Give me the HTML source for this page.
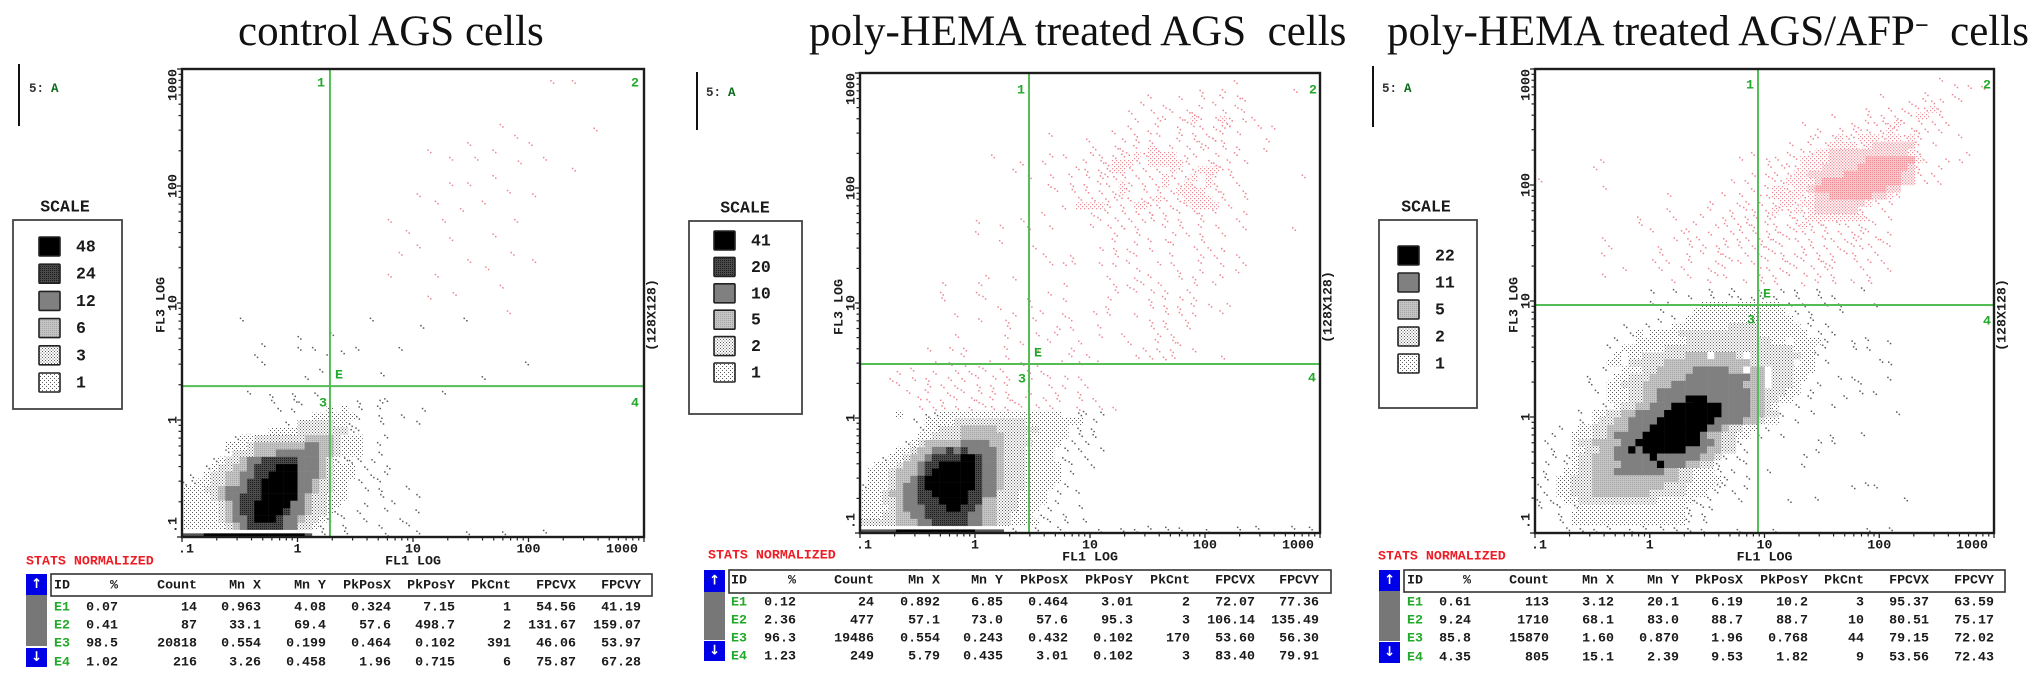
<!DOCTYPE html>
<html lang="en">
<head>
<meta charset="utf-8">
<title>AGS cells flow cytometry dot plots</title>
<style>
html,body{margin:0;padding:0;background:#fff;width:2031px;height:679px;overflow:hidden}
svg{display:block}
.t{font-family:"Liberation Serif",serif;font-size:43px;fill:#111;white-space:pre}
.m{font-family:"Liberation Mono",monospace;font-weight:bold;font-size:13.3px;fill:#1a1a1a;dominant-baseline:central;white-space:pre}
</style>
</head>
<body>
<svg id="chart" xmlns="http://www.w3.org/2000/svg" width="2031" height="679" viewBox="0 0 2031 679">
<defs>
<pattern id="lvl1" patternUnits="userSpaceOnUse" width="4" height="4"><rect width="4" height="4" fill="#fff"/><rect x="0" y="0" width="1" height="1" fill="#5c5c5c"/><rect x="2" y="2" width="1" height="1" fill="#5c5c5c"/></pattern>
<pattern id="lvl2" patternUnits="userSpaceOnUse" width="3" height="3"><rect width="3" height="3" fill="#fff"/><rect x="0" y="0" width="1" height="1" fill="#5c5c5c"/><rect x="1.5" y="1.5" width="1" height="1" fill="#5c5c5c"/></pattern>
<pattern id="lvl3" patternUnits="userSpaceOnUse" width="2" height="2"><rect width="2" height="2" fill="#c4c4c4"/><rect width="1" height="1" fill="#a4a4a4"/></pattern>
<pattern id="lvl5" patternUnits="userSpaceOnUse" width="2" height="2"><rect width="2" height="2" fill="#4a4a4a"/><rect width="1" height="1" fill="#1c1c1c"/></pattern>
<pattern id="lvl1p" patternUnits="userSpaceOnUse" width="4" height="4"><rect width="4" height="4" fill="#fff"/><rect x="0" y="0" width="1.2" height="1.2" fill="#ec8a93"/><rect x="2" y="2" width="1.2" height="1.2" fill="#ec8a93"/></pattern>
<pattern id="lvl2p" patternUnits="userSpaceOnUse" width="3" height="3"><rect width="3" height="3" fill="#fff"/><rect x="0" y="0" width="1.3" height="1.3" fill="#ee8e97"/><rect x="1.5" y="1.5" width="1.3" height="1.3" fill="#ee8e97"/></pattern>
<pattern id="lvl3p" patternUnits="userSpaceOnUse" width="2" height="2"><rect width="2" height="2" fill="#f9c2c7"/><rect width="1" height="1" fill="#ef8c95"/></pattern>
</defs>
<text class="t" x="238" y="45">control AGS cells</text>
<text class="t" x="809" y="45">poly-HEMA treated AGS  cells</text>
<text class="t" x="1387" y="45">poly-HEMA treated AGS/AFP<tspan font-weight="bold" font-size="24" dy="-12">−</tspan><tspan dy="12">  cells</tspan></text>
<g id="plots"></g>
</svg>
<script>
// Log-scale ticks shared by both axes (fluorescence units)
const axisDecades = [0.1, 1, 10, 100, 1000];
const axisTickLabels = [".1", "1", "10", "100", "1000"];
const minorMultipliers = [2, 3, 4, 5, 6, 7, 8, 9];

// Quadrant gates per panel (FL1 value, FL3 value)
const gateX = [1.91, 2.95, 8.78];
const gateY = [1.95, 2.95, 9.24];

// Above this FL3 channel, events are drawn in the gate's pink colour
const pinkFromChannel = [62, 34, 68];

// SCALE legend counts and their density level
const scaleValues1 = [48, 24, 12, 6, 3, 1];
const scaleValues2 = [41, 20, 10, 5, 2, 1];
const scaleValues3 = [22, 11, 5, 2, 1];
const scaleLevels1 = [6, 5, 4, 3, 2, 1];
const scaleLevels2 = [6, 5, 4, 3, 2, 1];
const scaleLevels3 = [6, 4, 3, 2, 1];

// Stats tables
const statsHeaders = ["ID", "%", "Count", "Mn X", "Mn Y", "PkPosX", "PkPosY", "PkCnt", "FPCVX", "FPCVY"];
const stats1 = [
 ["E1","0.07","14","0.963","4.08","0.324","7.15","1","54.56","41.19"],
 ["E2","0.41","87","33.1","69.4","57.6","498.7","2","131.67","159.07"],
 ["E3","98.5","20818","0.554","0.199","0.464","0.102","391","46.06","53.97"],
 ["E4","1.02","216","3.26","0.458","1.96","0.715","6","75.87","67.28"]];
const stats2 = [
 ["E1","0.12","24","0.892","6.85","0.464","3.01","2","72.07","77.36"],
 ["E2","2.36","477","57.1","73.0","57.6","95.3","3","106.14","135.49"],
 ["E3","96.3","19486","0.554","0.243","0.432","0.102","170","53.60","56.30"],
 ["E4","1.23","249","5.79","0.435","3.01","0.102","3","83.40","79.91"]];
const stats3 = [
 ["E1","0.61","113","3.12","20.1","6.19","10.2","3","95.37","63.59"],
 ["E2","9.24","1710","68.1","83.0","88.7","88.7","10","80.51","75.17"],
 ["E3","85.8","15870","1.60","0.870","1.96","0.768","44","79.15","72.02"],
 ["E4","4.35","805","15.1","2.39","9.53","1.82","9","53.56","72.43"]];

// Density heatmaps on a 64x64 log-channel grid. Index = row from the bottom.
// Each row holds "startColumn:levels" runs; levels: a=isolated events, 1..6=legend levels,
// z=black edge pile-up, y=gray edge pile-up.
const densityRows1 = [
 "0:yyy 3:zzzzzzzzzzzzzz 17:y 19:a..a.....a...a......a 44:a 50:a",
 "0:111111234555554422 18:1a..a....a...a",
 "0:1111123445666544322 19:1a.a..a....a",
 "0:111112345566665443221a 24:a...a...a",
 "0:1111123455666664432211 25:a...a",
 "0:11112344555666664322111 27:a 32:a",
 "0:11122344455666664432211 25:a.a 31:a",
 "0:aa112233455666664432211 24:a..a",
 "1:a 3:122334455666644432111 26:a.a",
 "3:a12233455566644432111 25:a..a",
 "4:a1223445555544432aaaa 26:a",
 "6:a222333444444332111 27:a",
 "6:1112333333344332111 27:a",
 "7:a11222222233332111 28:a",
 "12:11112222222aa",
 "14:a. 16:2222211a...a....a",
 "18:111111a..a..a",
 "13:a.a....1.1.a..a.....a",
 "12:a..aa.......a..aa",
 "9:a..a..a..a"
];
const densityRows2 = [
 "0:yyyyy 5:zzzzzzzzzzz 16:yyyy 21:a..a..a.....a..a.a.a.a.a...a...a..a....a.a",
 "0:22222 5:333 8:44 10:55555 15:44 17:33 19:22 21:1111 26:a.a..a",
 "0:1112 4:2 5:33 7:44 9:555555 15:44 17:33 19:22 21:111 25:a..a",
 "0:1111 4:2 5:3 6:444 9:555 12:66 14:55 16:4 17:33 19:222 22:111 26:a...a",
 "0:111 3:22 5:3 6:44 8:555 11:6666 15:55 17:33 19:222 22:1111 27:a",
 "0:111 3:2 4:33 6:44 8:55 10:66666 15:55 17:44 19:222 22:1111 27:a..a",
 "0:a1 2:11 4:2 5:3 6:44 8:5 9:6666666 16:5 17:44 19:3 20:222 23:1111 28:a",
 "1:111 4:2 5:33 7:4 8:5 9:6666666 16:5 17:44 19:3 20:222 23:11111",
 "1:111 4:2 5:33 7:3 8:4 9:5 10:666666 16:5 17:44 19:3 20:222 23:11111 29:a",
 "2:111 5:2 6:33 8:4 9:55 11:66666 16:5 17:44 19:3 20:222 23:11111 29:a..a",
 "3:a11 6:2 7:33 9:4 10:5555 14:66 16:5 17:44 19:3 20:222 23:1111 28:a..a",
 "5:11 7:2 8:33 10:4 11:45454 16:444 19:3 20:222 23:1111 28:a.a..a",
 "6:a1 8:2 9:33 11:333 14:4444 18:33 20:2222 24:1111 29:a.a",
 "8:11 10:2 11:222 14:33333 19:3 20:222 23:111 26:111 30:a.a",
 "8:a11 11:222 14:33333 19:222 22:222 25:1111 30:a.a",
 "7:a.1111 13:222222 19:2222 23:111 26:11111 32:a",
 "5:1...aa 11:11111111 19:11111 24:1111 30:aa 33:a",
 "8:a.aa.a.a.aa.a 22:a.a.a.. 30:a..a.a",
 "8:aa.a.a.aa.a.aa.a 25:a.a..a.a",
 "6:a..a..a.a.a.a.a..a 27:a..a",
 "5:a...a.a.a..a.a.a 26:a.a..a",
 "4:a..a.a..a.a.a.a.a 23:a..a.a 30:a",
 "5:a.a..a..a.a.a.a 23:a.a",
 "10:a.a.a.a.a 22:a.a 28:a.a 33:a",
 "14:a 20:a 29:a.a 38:a.a.a 43:a 50:a",
 "9:a..a.a 20:a 24:a 29:a 39:a.a.a 46:a",
 "22:a 26:a 30:a 37:a 41:a.a 44:a",
 "13:a 20:a 24:a..a 33:a..a 41:a.a",
 "20:a 27:a.a 33:a 40:a.a 45:a",
 "16:a 20:a 24:a 29:a 40:a.a 45:a",
 "13:a 21:a 25:a 28:a 32:a.a 38:a 42:a.a.a 50:a",
 "19:a 23:a 34:a 40:a.a.a.a 48:a 51:a",
 "11:a 17:a 23:a 28:a 34:a 40:a.a.a 46:a",
 "11:a 16:a 26:a 35:a 38:a.a.a 45:a",
 "11:a 16:a 28:a 35:a.a 39:a.a 46:a 49:a",
 "17:a 21:a 34:a 38:a.a 44:a.a 50:a",
 "38:a 44:a 47:a 52:a",
 "26:a.a 29:a 33:a.a 37:a 41:a.a 47:a 50:a 53:a",
 "25:a 29:a 35:a 38:a 43:a 47:a.a 52:a",
 "24:a 33:a.a 37:a 40:a 46:a.a.a 50:a",
 "19:a 35:a 38:a.a.a 43:a 47:a",
 "16:a 35:a 38:a 43:a.a.a 50:a",
 "19:a 23:a 26:a 32:a.a.a 36:a.a 42:a.a 47:a.a 53:a 60:a",
 "16:a 22:a 33:a.a.a.a 40:a.a.a 47:a 52:a",
 "25:a 32:a.a.a.a.a 40:a.a.a.a 47:a.a 53:a",
 "28:a 30:1111 34:a.a 38:11 40:aa.a.a 46:1111 51:a",
 "30:a.a.a 35:aaa.a 40:a1a.a 45:1111 50:a 53:a",
 "27:a.a 31:a.a 35:a1a 39:a.a.a 44:1111 49:aa 53:a",
 "26:a 29:a 31:a.aa 36:1a.a 41:a1.a1a 48:1a 52:a",
 "23:a 26:a 29:a.a.aa 35:aa.a 40:a.1a.a1 48:1a 51:a 61:a",
 "21:a 30:aa.aa 35:11a.a 41:a.1a.a1 48:11aa",
 "22:a 25:a 31:a.aa 35:111a 40:1111 44:1a 48:aa 51:a 53:a",
 "18:a 26:a 28:a 32:aa.aaa 38:1a1111 45:aa 49:a 52:a",
 "32:a 35:aa.a 40:1a.a.a 47:aa 50:a.a 56:a",
 "31:a 36:a.a 40:a 44:a.aa.a 49:aa 56:a",
 "26:a 35:a 38:a.aa 44:a.a.a.a 52:a",
 "37:a 41:a 44:a.aa.a.a 50:aa 55:a 57:a",
 "38:a 41:aa.a 45:a1a.aa 50:1a.a 54:a",
 "37:a 40:a 43:a.a 46:a 50:a 53:a",
 "39:a 42:a 47:a.a 52:a",
 "40:a 44:a 47:a 50:a.a 53:a",
 "47:a 50:a 60:a",
 "52:a"
];
const densityRows3 = [
 "4:a.a.a.a..a.a.a.a.a.a 28:a 33:a 46:a 49:a",
 "3:a.a 5:1111111111111111 21:a.a",
 "3:a 5:111111111111111 20:1 21:a.a",
 "0:a 3:a 5:a1111 9:1111111 16:11111 21:a.a 24:a",
 "0:a 2:a.1 5:1222 9:2222 13:2222 17:1111 21:1a 24:a 28:a 35:a 39:a 51:a",
 "1:a 3:11 5:222 8:3333 12:3333 16:22 18:222 21:111 25:a.a",
 "0:a 3:111 5:22 7:2 8:333 11:333 14:3333 18:222 21:1111 25:aa 29:a 44:a.a 47:a",
 "1:a 3:11 5:222 8:33 10:3333 14:3333 18:33 20:22 22:1111 26:a 29:a",
 "1:a 4:111 6:22 8:33 10:3 11:4444 15:444 18:33 20:22 22:111 25:a.a 32:a",
 "1:a 4:a1 6:22 8:33 10:33 12:444 15:4464 19:44 21:33 23:22 25:a 29:a 37:a",
 "2:a 4:a1 6:22 8:333 11:44 13:44 15:4 16:6 17:444 20:444 23:33 25:2 26:a 28:a 37:a",
 "2:a 5:11 7:22 9:33 11:44 13:6 14:4 15:6666 19:66 21:444 24:33 26:22 29:a 39:a",
 "1:a 5:1 6:22 8:33 10:33 12:44 14:66 16:66666 21:66 23:44 25:3 26:22 28:a 39:a 41:a",
 "2:a 5:111 8:22 10:33 11:4444 15:6666 19:6666 23:4 24:33 26:22 28:11 31:a 34:a 41:a 45:a",
 "3:a 6:11 8:22 10:333 13:444 16:66 18:666666 24:44 26:3 27:22 29:11 32:a",
 "6:a.1 9:22 11:33 13:4444 17:6666 21:6666 25:44 27:44 29:33 31:2 32:11 36:a",
 "6:a 8:11 10:22 12:33 14:444 17:4 18:66666 23:666 26:44 28:44 30:33 32:22 34:a 38:a 50:a",
 "9:a 11:1 12:22 14:33 16:444 19:66 21:66666 26:44 28:44 30:33 32:2 33:1 36:a 41:a",
 "10:1 11:11 13:22 15:333 17:444 20:44 21:666 24:444 27:444 30:33 32:22 34:11 38:a 43:a",
 "8:a 10:111 13:222 15:33 17:44444 22:44444 27:444 30:33 32:222 35:11 38:a 45:a.a",
 "7:a 10:11 12:222 15:33 17:33 19:444 22:4444 26:444 29:3 30:33 33:222 36:1 39:a 45:a",
 "7:a 11:11 13:222 16:333 19:33 21:4444 25:444 28:44 30:33 33:222 36:11 42:a 44:a 49:a",
 "9:a 12:111 15:222 17:33 19:333 22:44 24:444 27:33 30:33 33:222 36:111",
 "10:11 13:222 16:22 18:33 20:3333 24:3333 28:33 30:2 31:222 34:22 37:11 40:a 48:a 49:a",
 "11:1 13:11 15:222 18:222 21:333 25:333 28:2 30:222 33:2222 37:11 39:a",
 "10:a 12:11 14:1111 18:222 21:222 24:222 27:222 30:222 33:222 36:111 40:a 44:a 46:a",
 "11:a 14:111 17:1111 21:222 24:222 27:222 30:222 33:11 36:1111 40:a 44:a.a 49:a",
 "13:a 14:1 16:1111 20:222 23:222 26:222 29:22 31:1111 35:111 39:a.a",
 "12:a 15:a 19:1111 23:1111 27:2222 31:111 34:111 38:a 40:a",
 "17:a 19:a 21:1111 25:1111 29:1111 33:111 38:a",
 "17:a 22:111 25:1111 29:1111 33:11 36:a.a 42:a",
 "16:a 18:a 23:111 26:1 28:111 31:111 35:a.a 40:a.a 47:a",
 "21:a 24:a 27:aa 30:aa 33:a 36:a 39:a 41:a",
 "16:a 19:a 24:a 27:a 31:a 34:a 36:a 39:a 45:a",
 "19:a 24:a 29:a 31:a.a 37:a.a.a 44:a.a",
 "9:a 21:a 25:aa 31:a.a.a 35:a.a 39:a.a 46:a",
 "12:a 17:a 20:a 24:a.a 31:aa.a 36:a.a.a 41:a 45:a 49:a",
 "16:a.a 21:a 25:a.aa 30:a.a 34:aa.a.a 39:aaa 44:a.a 48:a",
 "9:a 17:a 21:a.a 25:aa 29:a.a.a 34:a.aa 39:a.a 43:aa 47:a",
 "10:a 17:a 21:a.a 25:aa 28:a.aa 32:a.a 37:aa.a 42:a.aa 46:a 49:a",
 "9:a 19:a 21:aa 26:a.a 29:a.a 32:aa 35:aa.a 40:aa.a 44:aa.a 48:a",
 "16:a 20:aa 24:a 27:aa 30:a.aa 34:a.aa 38:a.a 42:a.aa 46:a 49:a",
 "14:a 22:a 25:aa.a 29:aa 32:aa.a 36:a1a 39:aa.a 43:a.a 47:a",
 "14:a 19:a 23:a 26:aa.a 30:a.a 33:a.aa 37:a11 40:111 43:111 46:a 49:a",
 "18:a 24:a 27:a.a 30:a.a 33:1aa 36:1a1 39:222 42:222 45:a 48:a",
 "24:a 28:aa 31:a 33:a11 36:a11 39:2222 43:222 46:1a 49:a",
 "18:a 26:a 28:a 31:aa 33:111 36:1a1 39:2233 43:3333 47:22 49:1a",
 "9:a 30:a 32:a11 35:a11 38:2 39:3333 43:3333 47:33 49:22",
 "0:a 27:a 29:a 33:aa 35:1 36:111 39:2333 43:3333 47:3333 51:22 54:a 56:a",
 "30:a 32:aa.a 36:11 38:2222 42:2333 46:33333 51:22 53:a 55:a",
 "8:a 32:a.aa 36:a1 38:11 40:2222 44:2333 48:3333 52:2 53:a 56:a",
 "9:a 28:a 32:aa 36:a1 38:111 41:222 44:22 46:3333 50:333 53:1a 57:a.a",
 "30:a 35:a.a 38:a11 41:222 44:222 47:222 50:22 52:1a 60:a",
 "35:a 38:a.a 41:111 44:1a1 47:2222 51:22 53:a.a",
 "38:aa 41:a1a 44:a11 47:1a1 50:1a1 53:a 59:a",
 "39:a 42:a.a 45:aa 48:a1 50:a.aa 54:a.a",
 "37:a 44:a.a 47:aa 49:a1a 53:a.a 57:a",
 "41:a 46:a 48:a 50:a.a 52:a11 56:a",
 "46:a 49:a 51:a.a 54:a1a",
 "52:a 54:aa 56:a 59:a",
 "48:a 54:a 58:a",
 "58:a 60:a 62:a",
 "56:a"
];

// Isolated events for panel 1, as [FL1 channel, FL3 channel] (0-127 log channels)
const eventChannels1 = [
 [68,106],[79,108],[88,113],[93,103],[102,125],[108,125],[114,112],[57,87],[65,94],[74,97],[72,87],
 [79,97],[86,99],[92,87],[97,94],[57,72],[65,80],[79,76],[86,83],[68,66],[75,67],[88,69],[97,76],
 [108,101],[95,48],[83,44],[72,40],[70,92],[77,90],[83,92],[90,95],[62,84],[60,78],[81,104],[86,106],
 [92,110],[96,108],[74,82],[70,72],[84,74],[91,78],[66,58],[60,52],[55,45],[78,60],[90,62],[52,60],
 [100,104],[74,104],[16,60],[22,53],[20,50],[22,48],[32,55],[32,52],[36,52],[41,56],[40,50],[44,51],
 [48,52],[38,46],[34,44]
];

const panelData = [
 {rows: densityRows1, events: eventChannels1, scale: scaleValues1, levels: scaleLevels1, stats: stats1},
 {rows: densityRows2, events: [], scale: scaleValues2, levels: scaleLevels2, stats: stats2},
 {rows: densityRows3, events: [], scale: scaleValues3, levels: scaleLevels3, stats: stats3}
];

// Page layout, in pixels
const panelLayout = [
 {l:182,r:644,t:69,b:537,fl3Y:305,resY:315,fl1Y:561,tickY:549,
  gate:{n1:[321,83],n2:[635,83],n3:[323,403],n4:[635,403],e:[339,375]},
  div:[19,64,126],tag:[29,51,89],
  scale:{tx:65,ty:207,box:[13,220,122,409],sx:39,sy:237,dy:27.2,vx:76},
  st:{x:26,y:561,upX:26,top:574,grayTop:595,grayBot:646,dnTop:648,dnBot:667,boxL:51,boxR:652,headY:585,rowY:[607,625,643,662],
      cols:[53,118,197,261,326,391,455,511,576,641]}},
 {l:860,r:1320,t:73,b:533,fl3Y:307,resY:307,fl1Y:557,tickY:545,
  gate:{n1:[1021,90],n2:[1313,90],n3:[1022,379],n4:[1312,378],e:[1038,353]},
  div:[697,72,130],tag:[706,728,93],
  scale:{tx:745,ty:208,box:[689,221,802,414],sx:714,sy:231,dy:26.4,vx:751},
  st:{x:708,y:555,upX:704,top:570,grayTop:592,grayBot:640,dnTop:641,dnBot:661,boxL:729,boxR:1331,headY:580,rowY:[602,620,638,656],
      cols:[730,796,874,940,1003,1068,1133,1190,1255,1319]}},
 {l:1535,r:1994,t:69,b:533,fl3Y:305,resY:315,fl1Y:557,tickY:545,
  gate:{n1:[1750,85],n2:[1987,85],n3:[1751,320],n4:[1987,321],e:[1767,294]},
  div:[1373,66,127],tag:[1382,1404,89],
  scale:{tx:1426,ty:207,box:[1379,220,1477,408],sx:1398,sy:246,dy:27,vx:1435},
  st:{x:1378,y:556,upX:1379,top:570,grayTop:591,grayBot:641,dnTop:642,dnBot:663,boxL:1404,boxR:2005,headY:580,rowY:[602,620,638,657],
      cols:[1406,1471,1549,1614,1679,1743,1808,1864,1929,1994]}}
];

const NS = "http://www.w3.org/2000/svg";
const GREEN = "#22a82a";
const GATE = "#55bd55";

function svgEl(parent, tag, attrs) {
  const e = document.createElementNS(NS, tag);
  for (const k in attrs) e.setAttribute(k, attrs[k]);
  parent.appendChild(e);
  return e;
}
function label(parent, x, y, str, opts) {
  const o = opts || {};
  const e = svgEl(parent, "text", {x: x, y: y, class: "m"});
  if (o.anchor) e.setAttribute("text-anchor", o.anchor);
  if (o.fill) e.setAttribute("style", "fill:" + o.fill + (o.size ? ";font-size:" + o.size + "px" : ""));
  else if (o.size) e.setAttribute("style", "font-size:" + o.size + "px");
  if (o.rot) e.setAttribute("transform", "rotate(-90 " + x + " " + y + ")");
  e.textContent = str;
  return e;
}
function levelFill(level, pink) {
  if (level === 6) return "#000";
  if (level === 5) return "url(#lvl5)";
  if (level === 4) return pink ? "#ee8e97" : "#808080";
  return "url(#lvl" + level + (pink ? "p" : "") + ")";
}

const root = document.getElementById("plots");

panelData.forEach(function (data, p) {
  const L = panelLayout[p];
  const W = L.r - L.l, H = L.b - L.t;
  const g = svgEl(root, "g", {});
  
  

  // Axis functions
  const xScale = function (v) { return L.l + (Math.log10(v) + 1) / 4 * W; };
  const yScale = function (v) { return L.b - (Math.log10(v) + 1) / 4 * H; };
  const xChan = function (ch) { return L.l + ch / 128 * W; };
  const yChan = function (ch) { return L.b - ch / 128 * H; };

  // Density cells
  const cells = svgEl(g, "g", {});
  
  
  const cw = W / 64, ch = H / 64;
  const dot = function (cx, cy, pink) {
    const d = svgEl(cells, "rect", {x: cx.toFixed(1), y: cy.toFixed(1), width: 1.5, height: 1.5, fill: pink ? "#ec8590" : "#5a5a5a"});
    
    
  };
  data.rows.forEach(function (row, b) {
    const pink = b * 2 >= pinkFromChannel[p];
    row.split(" ").forEach(function (seg) {
      if (!seg) return;
      const parts = seg.split(":");
      const start = parseInt(parts[0], 10);
      const vals = parts[1];
      for (let i = 0; i < vals.length; i++) {
        const v = vals[i];
        if (v === ".") continue;
        const c = start + i;
        const x = xChan(c * 2), y = yChan((b + 1) * 2);
        if (v === "a") {
          const ox = ((c * 7 + b * 3) % 5) / 5 * cw * 0.55;
          const oy = ((c * 3 + b * 7) % 5) / 5 * ch * 0.55;
          dot(x + ox, y + oy, pink);
          dot(x + ox + 2.6, y + oy + 2.4, pink);
          continue;
        }
        const isEdge = v === "z" || v === "y";
        const cell = svgEl(cells, "rect", {
          x: x.toFixed(2),
          y: (isEdge ? y + ch * 0.5 : y).toFixed(2),
          width: (cw + 0.25).toFixed(2),
          height: (isEdge ? ch * 0.5 : ch + 0.25).toFixed(2),
          fill: isEdge ? (v === "z" ? "#000" : "#555") : levelFill(parseInt(v, 10), pink)
        });
        
        
      }
    });
  });
  data.events.forEach(function (ev) {
    const pink = ev[1] >= pinkFromChannel[p];
    dot(xChan(ev[0]), yChan(ev[1]), pink);
    dot(xChan(ev[0]) + 2.6, yChan(ev[1]) + 2.4, pink);
  });

  // Gates
  const vGate = svgEl(g, "line", {x1: xScale(gateX[p]), x2: xScale(gateX[p]), y1: L.t, y2: L.b, stroke: GATE, "stroke-width": 2});
  
  
  const hGate = svgEl(g, "line", {x1: L.l, x2: L.r, y1: yScale(gateY[p]), y2: yScale(gateY[p]), stroke: GATE, "stroke-width": 2});
  
  

  const gl1 = label(g, L.gate.n1[0], L.gate.n1[1], "1", {anchor: "middle", fill: GREEN});
  
  
  const gl2 = label(g, L.gate.n2[0], L.gate.n2[1], "2", {anchor: "middle", fill: GREEN});
  
  
  const gl3 = label(g, L.gate.n3[0], L.gate.n3[1], "3", {anchor: "middle", fill: GREEN});
  
  
  const gl4 = label(g, L.gate.n4[0], L.gate.n4[1], "4", {anchor: "middle", fill: GREEN});
  
  
  const glE = label(g, L.gate.e[0], L.gate.e[1], "E", {anchor: "middle", fill: GREEN});
  
  

  // Plot frame
  const frame = svgEl(g, "rect", {x: L.l, y: L.t, width: W, height: H, fill: "none", stroke: "#1c1c1c", "stroke-width": 2.4});
  
  

  // Ticks
  axisDecades.forEach(function (dec, i) {
    const tx = svgEl(g, "line", {x1: xScale(dec), x2: xScale(dec), y1: L.b, y2: L.b + 5, stroke: "#222", "stroke-width": 1.3});
    
    
    const ty = svgEl(g, "line", {x1: L.l - 5, x2: L.l, y1: yScale(dec), y2: yScale(dec), stroke: "#222", "stroke-width": 1.3});
    
    
    if (i < axisDecades.length - 1) {
      minorMultipliers.forEach(function (m) {
        const mx = svgEl(g, "line", {x1: xScale(dec * m), x2: xScale(dec * m), y1: L.b, y2: L.b + 3.5, stroke: "#222", "stroke-width": 1.2});
        
        
        const my = svgEl(g, "line", {x1: L.l - 3.5, x2: L.l, y1: yScale(dec * m), y2: yScale(dec * m), stroke: "#222", "stroke-width": 1.2});
        
        
      });
    }
    // Tick labels: the end labels are pulled inside the plot range, as on the instrument printout
    let xl = xScale(dec), yl = yScale(dec);
    if (i === 0) { xl += 4; yl -= 12; }
    if (i === axisDecades.length - 1) { xl -= 22; yl += 16; }
    const xt = label(g, xl, L.tickY, axisTickLabels[i], {anchor: "middle"});
    
    
    const yt = label(g, L.l - 9, yl, axisTickLabels[i], {anchor: "middle", rot: true});
    
    
  });

  // Axis titles
  const xTitle = label(g, xScale(10), L.fl1Y, "FL1 LOG", {anchor: "middle"});
  
  
  const yTitle = label(g, L.l - 21, L.fl3Y, "FL3 LOG", {anchor: "middle", rot: true});
  
  
  const res = label(g, L.r + 8, L.resY, "(128X128)", {anchor: "middle", rot: true});
  
  

  // Divider + tag
  const div = svgEl(g, "line", {x1: L.div[0], x2: L.div[0], y1: L.div[1], y2: L.div[2], stroke: "#111", "stroke-width": 2});
  
  
  const tag1 = label(g, L.tag[0], L.tag[2], "5:", {fill: "#333", size: 12.5});
  
  
  const tag2 = label(g, L.tag[1], L.tag[2], "A", {fill: "#0a6a1a", size: 12.5});
  
  

  // SCALE legend
  const S = L.scale;
  const st = label(g, S.tx, S.ty, "SCALE", {anchor: "middle", size: 16.5});
  
  
  const box = svgEl(g, "rect", {x: S.box[0], y: S.box[1], width: S.box[2] - S.box[0], height: S.box[3] - S.box[1], fill: "none", stroke: "#444", "stroke-width": 1.8});
  
  
  data.scale.forEach(function (val, i) {
    const y = S.sy + i * S.dy;
    const sw = svgEl(g, "rect", {x: S.sx, y: y, width: 21, height: 19, rx: 1, fill: levelFill(data.levels[i], false), stroke: "#222", "stroke-width": 1.6});
    
    
    const tv = label(g, S.vx, y + 10, String(val), {size: 16.5});
    
    
  });

  // Stats table
  const T = L.st;
  const stTitle = label(g, T.x, T.y, "STATS NORMALIZED", {fill: "#ee1c25"});
  
  
  const up = svgEl(g, "rect", {x: T.upX, y: T.top, width: 21, height: T.grayTop - T.top, fill: "#0000e6"});
  
  
  const upG = label(g, T.upX + 10.5, (T.top + T.grayTop) / 2, "\u2191", {anchor: "middle", fill: "#fff"});
  
  
  upG.style.fontFamily = '"DejaVu Sans", sans-serif';
  const trk = svgEl(g, "rect", {x: T.upX, y: T.grayTop, width: 21, height: T.grayBot - T.grayTop, fill: "#777"});
  
  
  const dn = svgEl(g, "rect", {x: T.upX, y: T.dnTop, width: 21, height: T.dnBot - T.dnTop, fill: "#0000e6"});
  
  
  const dnG = label(g, T.upX + 10.5, (T.dnTop + T.dnBot) / 2, "\u2193", {anchor: "middle", fill: "#fff"});
  
  
  dnG.style.fontFamily = '"DejaVu Sans", sans-serif';
  const hb = svgEl(g, "rect", {x: T.boxL, y: T.top, width: T.boxR - T.boxL, height: T.grayTop - T.top + 1, fill: "none", stroke: "#333", "stroke-width": 1.6});
  
  
  statsHeaders.forEach(function (h, i) {
    const th = label(g, i === 0 ? T.cols[0] + 1 : T.cols[i], T.headY, h, {anchor: i === 0 ? "start" : "end"});
    
    
  });
  data.stats.forEach(function (row, r) {
    row.forEach(function (val, i) {
      const td = label(g, i === 0 ? T.cols[0] + 1 : T.cols[i], T.rowY[r], val, i === 0 ? {anchor: "start", fill: GREEN} : {anchor: "end"});
      
      
    });
  });
});
</script>
</body>
</html>
